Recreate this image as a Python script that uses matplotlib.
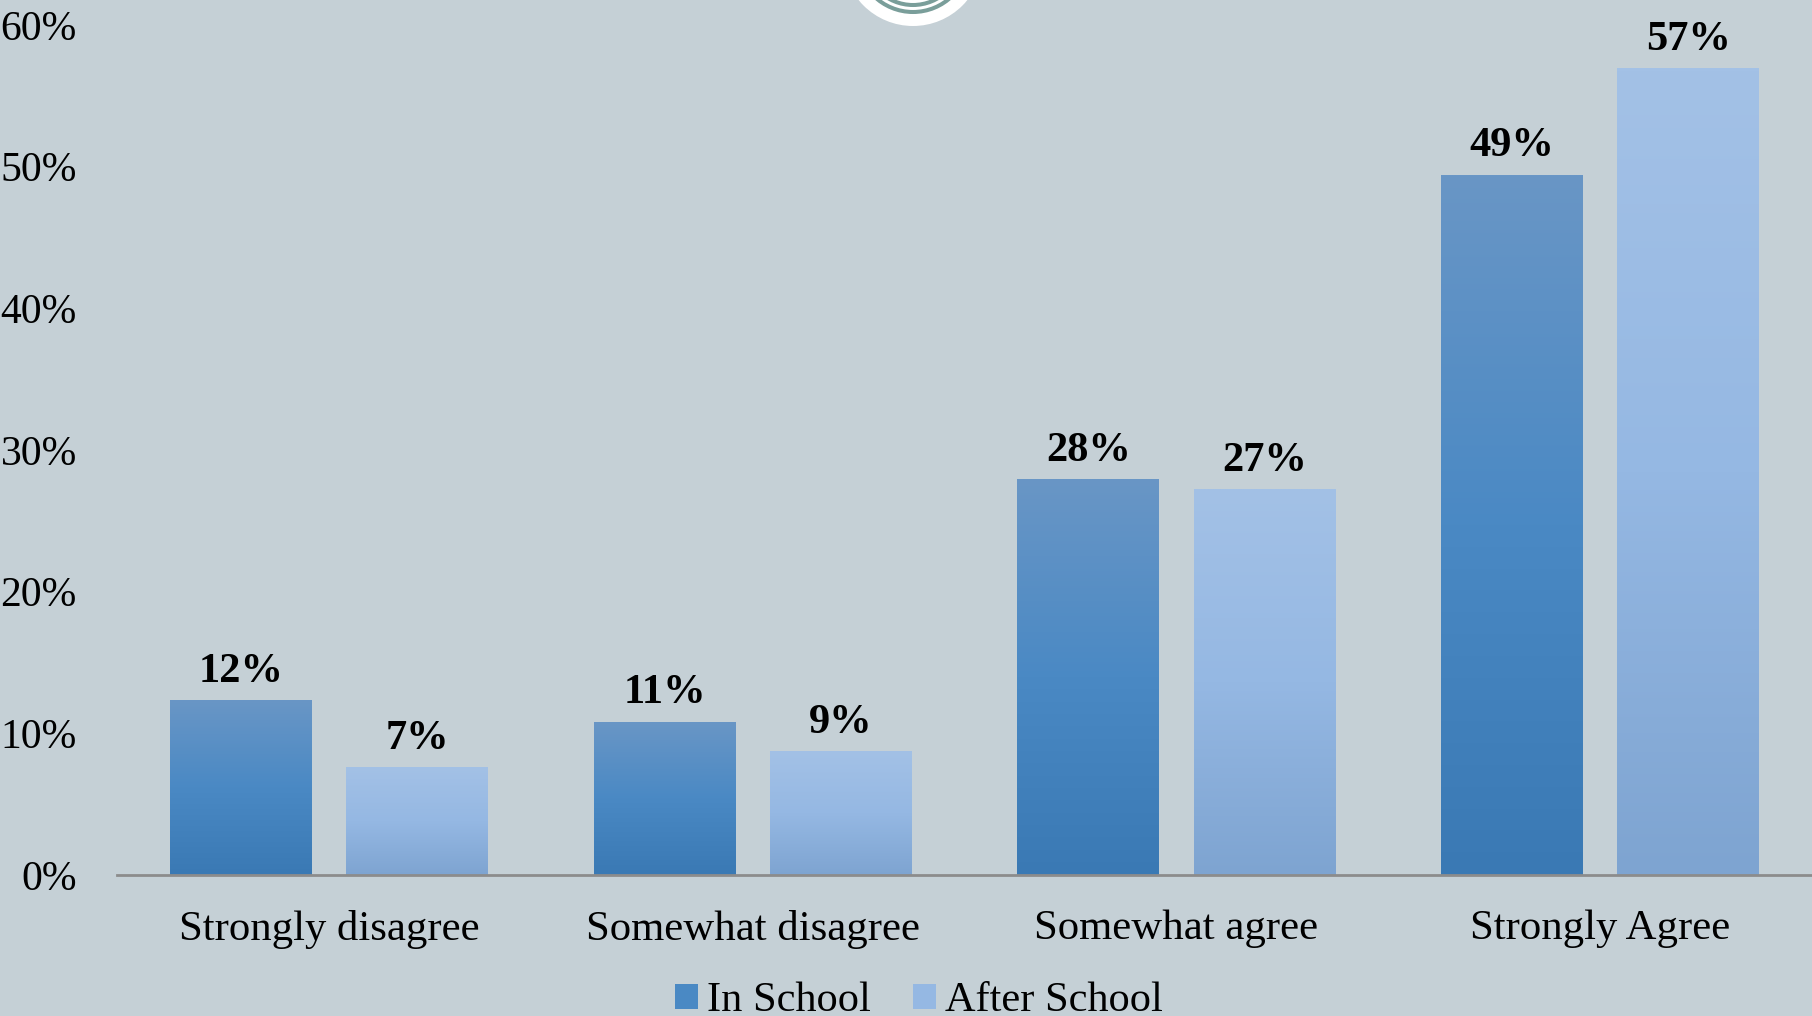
import numpy as np
import matplotlib
matplotlib.use("Agg")
import matplotlib.pyplot as plt
from matplotlib.colors import LinearSegmentedColormap
from matplotlib.patches import Circle, Patch

# data
categories = ["Strongly disagree", "Somewhat disagree", "Somewhat agree", "Strongly Agree"]
in_school = [12.3, 10.8, 27.9, 49.4]
after_school = [7.6, 8.7, 27.2, 56.9]
in_labels = ["12%", "11%", "28%", "49%"]
after_labels = ["7%", "9%", "27%", "57%"]
yticks = [0, 10, 20, 30, 40, 50, 60]

bg = "#C5D0D6"
in_cols = ["#3A79B4", "#4A89C4", "#6996C6"]      # bottom, middle, top
after_cols = ["#7EA4D1", "#95B8E3", "#A3C1E6"]

plt.rcParams["font.family"] = ["Liberation Serif", "DejaVu Serif"]

fig = plt.figure(figsize=(18.12, 10.16), dpi=100, facecolor=bg)
ax = fig.add_axes([117 / 1812, 0.1388, 1 - 117 / 1812, 0.8366])
ax.set_facecolor(bg)

x = np.arange(len(categories))
w = 0.335
off = 0.208


def grad_bars(bars, cols):
    cmap = LinearSegmentedColormap.from_list("g", cols)
    g = np.linspace(0, 1, 256).reshape(-1, 1)
    for p in bars:
        x0, y0 = p.get_x(), p.get_y()
        ax.imshow(g, cmap=cmap, origin="lower", aspect="auto", zorder=2,
                  extent=[x0, x0 + p.get_width(), y0, y0 + p.get_height()])
        p.set_facecolor("none")


b1 = ax.bar(x - off, in_school, w, linewidth=0)
b2 = ax.bar(x + off, after_school, w, linewidth=0)
grad_bars(b1, in_cols)
grad_bars(b2, after_cols)

for bars, labs in [(b1, in_labels), (b2, after_labels)]:
    for p, t in zip(bars, labs):
        ax.annotate(t, (p.get_x() + p.get_width() / 2, p.get_height()),
                    xytext=(0, 7), textcoords="offset points",
                    ha="center", va="bottom", fontsize=30.5, fontweight="bold")

ax.set_xlim(-0.5, 3.5)
ax.set_ylim(0, 60)
ax.set_xticks(x)
ax.set_xticklabels(categories, fontsize=30.8)
ax.set_yticks(yticks)
ax.set_yticklabels([f"{v}%" for v in yticks], fontsize=30)
ax.tick_params(axis="x", length=0, pad=25)
ax.tick_params(axis="y", length=0, pad=29)
for s in ["top", "right", "left"]:
    ax.spines[s].set_visible(False)
ax.spines["bottom"].set_color("#8C8C8C")
ax.spines["bottom"].set_linewidth(2)
ax.spines["bottom"].set_zorder(3)

handles = [Patch(facecolor=in_cols[1], edgecolor="none", label="In School"),
           Patch(facecolor=after_cols[1], edgecolor="none", label="After School")]
fig.legend(handles=handles, loc="center", bbox_to_anchor=(919 / 1812, 0.0147),
           ncol=2, frameon=False, fontsize=30.5, handlelength=0.53, handleheight=0.53,
           handletextpad=0.22, columnspacing=1.0, borderpad=0)

# logo peeking from the top edge
ov = fig.add_axes([0, 0, 1, 1], zorder=5)
ov.set_xlim(0, 1812)
ov.set_ylim(1016, 0)
ov.axis("off")
ov.add_patch(Circle((913, -44), 70, facecolor="white", edgecolor="none"))
for r in [56, 49, 42, 35]:
    ov.add_patch(Circle((913, -44), r, facecolor="none", edgecolor="#7A9E9A", linewidth=2.9))

fig.savefig("out.png", dpi=100, facecolor=bg)
